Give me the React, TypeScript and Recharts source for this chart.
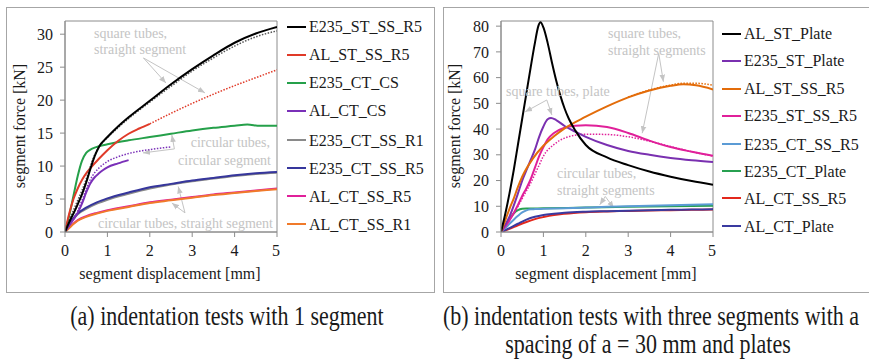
import React from "react";
import { LineChart, Line, XAxis, YAxis, ReferenceLine, ReferenceArea } from "recharts";

type P = [number, number];

// ---- (a) one segment ----
const A_E235_ST_SS_R5: P[] = [[0, 0], [0.1, 1.5], [0.2, 2.8], [0.3, 4.2], [0.4, 5.7], [0.5, 7.5], [0.6, 9.6], [0.7, 11.5], [0.8, 12.9], [1, 14.4], [1.25, 16.0], [1.5, 17.4], [2, 19.9], [2.5, 22.4], [3, 24.7], [3.5, 26.8], [4, 28.7], [4.5, 30.1], [5, 31.1]];
const A_E235_ST_SS_R5_SIM: P[] = [[0, 0], [0.1, 1.8], [0.2, 3.3], [0.3, 4.8], [0.4, 6.3], [0.5, 8.0], [0.6, 10.0], [0.7, 11.7], [0.8, 12.9], [1, 14.3], [1.5, 17.2], [2, 19.7], [2.5, 22.1], [3, 24.4], [3.5, 26.4], [4, 28.2], [4.5, 29.6], [5, 30.5]];
const A_AL_ST_SS_R5: P[] = [[0, 0], [0.1, 2.8], [0.2, 5.0], [0.3, 6.6], [0.4, 7.9], [0.5, 8.9], [0.6, 9.7], [0.8, 11.1], [1, 12.4], [1.25, 13.8], [1.5, 14.9], [1.75, 15.7], [2, 16.4]];
const A_AL_ST_SS_R5_SIM: P[] = [[2, 16.4], [2.5, 18.0], [3, 19.5], [3.5, 20.9], [4, 22.2], [4.5, 23.4], [5, 24.6]];
const A_E235_CT_CS: P[] = [[0, 0], [0.1, 2.5], [0.2, 5.5], [0.3, 8.5], [0.4, 10.8], [0.5, 12.0], [0.6, 12.5], [0.7, 12.8], [0.8, 13.0], [1, 13.3], [1.5, 13.9], [2, 14.4], [2.5, 14.9], [3, 15.4], [3.5, 15.8], [4, 16.1], [4.3, 16.3], [4.6, 16.1], [5, 16.1]];
const A_AL_CT_CS: P[] = [[0, 0], [0.1, 1.0], [0.2, 1.9], [0.3, 2.9], [0.4, 4.3], [0.5, 6.0], [0.6, 7.4], [0.7, 8.3], [0.8, 8.9], [0.9, 9.4], [1, 9.8], [1.25, 10.4], [1.5, 10.9]];
const A_AL_CT_CS_SIM: P[] = [[0, 0], [0.2, 2.0], [0.3, 3.2], [0.4, 4.8], [0.5, 6.5], [0.6, 8.0], [0.7, 9.0], [0.8, 9.7], [1, 10.7], [1.25, 11.4], [1.5, 11.9], [2, 12.5], [2.5, 12.9]];
const A_E235_CT_SS_R1: P[] = [[0, 0], [0.1, 1.1], [0.2, 2.0], [0.3, 2.7], [0.5, 3.5], [0.75, 4.3], [1, 4.9], [1.5, 5.8], [2, 6.6], [2.5, 7.2], [3, 7.7], [3.5, 8.1], [4, 8.5], [4.5, 8.8], [5, 9.0]];
const A_E235_CT_SS_R5: P[] = [[0, 0], [0.1, 1.2], [0.2, 2.1], [0.3, 2.8], [0.5, 3.7], [0.75, 4.5], [1, 5.1], [1.5, 6.0], [2, 6.8], [2.5, 7.3], [3, 7.8], [3.5, 8.2], [4, 8.6], [4.5, 8.9], [5, 9.1]];
const A_AL_CT_SS_R5: P[] = [[0, 0], [0.1, 0.7], [0.2, 1.3], [0.3, 1.8], [0.5, 2.4], [0.75, 2.9], [1, 3.3], [1.5, 3.9], [2, 4.5], [2.5, 4.9], [3, 5.3], [3.5, 5.7], [4, 6.0], [4.5, 6.3], [5, 6.6]];
const A_AL_CT_SS_R1: P[] = [[0, 0], [0.1, 0.6], [0.2, 1.2], [0.3, 1.7], [0.5, 2.3], [0.75, 2.8], [1, 3.2], [1.5, 3.8], [2, 4.4], [2.5, 4.8], [3, 5.2], [3.5, 5.6], [4, 5.9], [4.5, 6.2], [5, 6.5]];

// ---- (b) three segments and plates ----
const B_AL_ST_PLATE: P[] = [[0, 0], [0.1, 7], [0.2, 15], [0.3, 24], [0.4, 34], [0.5, 44], [0.6, 54], [0.7, 64], [0.8, 73.5], [0.88, 80], [0.93, 81.5], [1.0, 79.5], [1.1, 73.5], [1.2, 66], [1.3, 59], [1.4, 53], [1.5, 48], [1.6, 44], [1.75, 39.5], [2, 33.8], [2.5, 29], [3, 26], [3.5, 23.5], [4, 21.5], [4.5, 19.8], [5, 18.4]];
const B_E235_ST_PLATE: P[] = [[0, 0], [0.2, 6], [0.4, 15], [0.5, 20], [0.6, 24], [0.7, 28], [0.8, 32], [0.9, 37], [1.0, 41], [1.1, 43.8], [1.18, 44.3], [1.3, 43.5], [1.5, 41.2], [1.75, 39], [2, 37], [2.5, 33.8], [3, 31.5], [3.5, 30], [4, 28.8], [4.5, 27.9], [5, 27.2]];
const B_AL_ST_SS_R5: P[] = [[0, 0], [0.1, 4.5], [0.2, 9], [0.3, 13], [0.4, 17.5], [0.5, 21.5], [0.75, 28.5], [1, 33.5], [1.25, 37.2], [1.5, 40.3], [2, 44.8], [2.5, 48.8], [3, 52.3], [3.5, 55], [4, 56.8], [4.3, 57.4], [4.6, 57.0], [5, 55.4]];
const B_AL_ST_SS_R5_SIM: P[] = [[3, 52.5], [3.5, 55.2], [4, 57.1], [4.3, 57.8], [4.6, 57.8], [5, 57.0]];
const B_E235_ST_SS_R5: P[] = [[0, 0], [0.2, 4.5], [0.4, 10.5], [0.5, 14], [0.6, 17], [0.7, 20.5], [0.8, 25], [0.9, 29.5], [1.0, 33], [1.1, 36], [1.25, 38.5], [1.5, 40.5], [1.75, 41.3], [2, 41.5], [2.5, 40.8], [3, 38.5], [3.5, 35.5], [4, 33], [4.5, 31.2], [5, 29.6]];
const B_E235_ST_SS_R5_SIM: P[] = [[0, 0], [0.4, 10], [0.5, 13], [0.6, 16], [0.7, 19], [0.8, 22.5], [0.9, 26], [1, 29.5], [1.25, 34], [1.5, 36.5], [1.75, 37.6], [2, 38], [2.5, 37.9], [3, 37], [3.5, 35.3], [4, 33.2], [4.5, 31.2], [5, 29.5]];
const B_E235_CT_SS_R5: P[] = [[0, 0], [0.1, 1.5], [0.2, 3.2], [0.3, 4.8], [0.4, 6.3], [0.5, 7.6], [0.6, 8.4], [0.7, 8.8], [0.8, 8.9], [1, 9.0], [1.5, 9.2], [2, 9.5], [2.5, 9.8], [3, 10.0], [3.5, 10.2], [4, 10.4], [4.5, 10.6], [5, 10.8]];
const B_E235_CT_PLATE: P[] = [[0, 0], [0.1, 2.5], [0.2, 5], [0.3, 7.2], [0.4, 8.5], [0.5, 9.0], [0.6, 9.1], [1, 9.2], [2, 9.5], [3, 9.8], [4, 10.0], [5, 10.2]];
const B_AL_CT_SS_R5: P[] = [[0, 0], [0.2, 1.2], [0.4, 2.6], [0.6, 3.9], [0.8, 5.0], [1, 5.8], [1.25, 6.6], [1.5, 7.1], [2, 7.7], [2.5, 8.0], [3, 8.2], [3.5, 8.4], [4, 8.5], [4.5, 8.6], [5, 8.7]];
const B_AL_CT_PLATE: P[] = [[0, 0], [0.2, 1.5], [0.4, 3.2], [0.6, 4.8], [0.8, 5.9], [1, 6.6], [1.25, 7.1], [1.5, 7.5], [2, 7.9], [2.5, 8.1], [3, 8.3], [3.5, 8.5], [4, 8.6], [4.5, 8.7], [5, 8.8]];

const X_TICKS = [0, 1, 2, 3, 4, 5];
const A_Y_TICKS = [0, 5, 10, 15, 20, 25, 30];
const B_Y_TICKS = [0, 10, 20, 30, 40, 50, 60, 70, 80];

type S = { name: string; color: string; data: P[]; dotted?: boolean };

const A_SERIES: S[] = [
  { name: "E235_CT_SS_R1", color: "#8a8a8a", data: A_E235_CT_SS_R1 },
  { name: "E235_CT_SS_R5", color: "#36369c", data: A_E235_CT_SS_R5 },
  { name: "AL_CT_SS_R5", color: "#e0209a", data: A_AL_CT_SS_R5 },
  { name: "AL_CT_SS_R1", color: "#f07a2a", data: A_AL_CT_SS_R1 },
  { name: "AL_CT_CS", color: "#7a30b8", data: A_AL_CT_CS },
  { name: "AL_CT_CS sim", color: "#7a30b8", data: A_AL_CT_CS_SIM, dotted: true },
  { name: "E235_CT_CS", color: "#25a04a", data: A_E235_CT_CS },
  { name: "AL_ST_SS_R5", color: "#e03a28", data: A_AL_ST_SS_R5 },
  { name: "AL_ST_SS_R5 sim", color: "#e03a28", data: A_AL_ST_SS_R5_SIM, dotted: true },
  { name: "E235_ST_SS_R5 sim", color: "#555555", data: A_E235_ST_SS_R5_SIM, dotted: true },
  { name: "E235_ST_SS_R5", color: "#000000", data: A_E235_ST_SS_R5 },
];
const A_LEGEND = ["E235_ST_SS_R5", "AL_ST_SS_R5", "E235_CT_CS", "AL_CT_CS", "E235_CT_SS_R1", "E235_CT_SS_R5", "AL_CT_SS_R5", "AL_CT_SS_R1"];

const B_SERIES: S[] = [
  { name: "AL_CT_SS_R5", color: "#e3281c", data: B_AL_CT_SS_R5 },
  { name: "AL_CT_Plate", color: "#3a3aa0", data: B_AL_CT_PLATE },
  { name: "E235_CT_Plate", color: "#27a050", data: B_E235_CT_PLATE },
  { name: "E235_CT_SS_R5", color: "#5b9bd5", data: B_E235_CT_SS_R5 },
  { name: "E235_ST_SS_R5 sim", color: "#e0209a", data: B_E235_ST_SS_R5_SIM, dotted: true },
  { name: "E235_ST_SS_R5", color: "#e0209a", data: B_E235_ST_SS_R5 },
  { name: "E235_ST_Plate", color: "#7a30b0", data: B_E235_ST_PLATE },
  { name: "AL_ST_SS_R5 sim", color: "#e36c0a", data: B_AL_ST_SS_R5_SIM, dotted: true },
  { name: "AL_ST_SS_R5", color: "#e36c0a", data: B_AL_ST_SS_R5 },
  { name: "AL_ST_Plate", color: "#000000", data: B_AL_ST_PLATE },
];
const B_LEGEND = ["AL_ST_Plate", "E235_ST_Plate", "AL_ST_SS_R5", "E235_ST_SS_R5", "E235_CT_SS_R5", "E235_CT_Plate", "AL_CT_SS_R5", "AL_CT_Plate"];

type Seg = [[number, number], [number, number]];
const A_ARROWS: Seg[] = [
  [[1.85, 26.4], [2.38, 22.6]],
  [[1.85, 26.4], [3.3, 21.1]],
  [[2.58, 12.6], [2.52, 14.7]],
  [[2.58, 12.6], [1.84, 12.0]],
  [[2.83, 2.9], [2.67, 6.9]],
  [[2.83, 2.9], [2.52, 4.4]],
];
const B_ARROWS: Seg[] = [
  [[3.72, 69.4], [3.83, 58.4]],
  [[3.72, 69.4], [3.33, 38.4]],
  [[1.08, 51.3], [0.57, 46.7]],
  [[1.08, 51.3], [1.2, 45.5]],
  [[2.46, 13.8], [2.33, 10.6]],
  [[2.46, 13.8], [2.66, 9.3]],
];

const FONT = "'Liberation Serif', 'DejaVu Serif', serif";
const AXIS = "#8c8c8c";
const NOTE = "#c4c4c4";

const toPts = (d: P[]) => d.map(([x, y]) => ({ x, y }));

function Panel({ series, yMax, yTicks, arrows, yWidth }: { series: S[]; yMax: number; yTicks: number[]; arrows: Seg[]; yWidth: number }) {
  const tick = { fill: "#1a1a1a", fontSize: 16, fontFamily: FONT };
  return (
    <LineChart width={yWidth + 215} height={300} margin={{ top: 21, right: 3, left: 0, bottom: 0 }} style={{ fontFamily: FONT }}>
      <XAxis type="number" dataKey="x" domain={[0, 5]} ticks={X_TICKS} allowDataOverflow stroke={AXIS} tickSize={5} tickMargin={8} height={68} tick={tick} />
      <YAxis type="number" domain={[0, yMax]} ticks={yTicks} allowDataOverflow stroke={AXIS} tickSize={5} tickMargin={7} width={yWidth} tick={tick} />
      <ReferenceArea x1={0} x2={5} y1={0} y2={yMax} fill="none" stroke={AXIS} strokeWidth={1} ifOverflow="visible" />
      {arrows.map((a, i) => (
        <ReferenceLine key={"ar" + i} segment={[{ x: a[0][0], y: a[0][1] }, { x: a[1][0], y: a[1][1] }]} stroke={NOTE} strokeWidth={1} markerEnd="url(#arrowHead)" ifOverflow="visible" />
      ))}
      {series.map((s) => (
        <Line
          key={s.name}
          name={s.name}
          data={toPts(s.data)}
          dataKey="y"
          type="monotone"
          stroke={s.color}
          strokeWidth={s.dotted ? 1.5 : 2}
          strokeDasharray={s.dotted ? "1.5 1.5" : undefined}
          dot={false}
          activeDot={false}
          isAnimationActive={false}
        />
      ))}
    </LineChart>
  );
}

function Legend({ names, series, left, top, step }: { names: string[]; series: S[]; left: number; top: number; step: number }) {
  return (
    <>
      {names.map((n, i) => {
        const c = series.find((s) => s.name === n)!.color;
        return (
          <div key={n} style={{ position: "absolute", left, top: top + i * step, transform: "translateY(-50%)", display: "flex", alignItems: "center", whiteSpace: "nowrap" }}>
            <span style={{ display: "inline-block", width: 19, height: 2, background: c, marginRight: 3 }} />
            <span style={{ fontSize: 16, lineHeight: "18px", color: "#1a1a1a", display: "inline-block", transform: "scaleY(1.1)" }}>{n}</span>
          </div>
        );
      })}
    </>
  );
}

function Note({ x, y, text, right }: { x: number; y: number; text: string; right?: boolean }) {
  return (
    <div style={{ position: "absolute", left: right ? undefined : x, right: right ? 869 - x : undefined, top: y - 9, fontSize: 14, lineHeight: "18px", color: NOTE, whiteSpace: "nowrap" }}>
      {text}
    </div>
  );
}

function Abs({ x, y, text, size = 16, rotate = false, stretch = 1, lh = 1.15 }: { x: number; y: number; text: string; size?: number; rotate?: boolean; stretch?: number; lh?: number }) {
  return (
    <div style={{ position: "absolute", left: x, top: y, transform: `translate(-50%, -50%)${rotate ? " rotate(-90deg)" : ""} scaleY(${stretch})`, fontSize: size, lineHeight: lh, color: "#1a1a1a", whiteSpace: "nowrap" }}>
      {text}
    </div>
  );
}

export default function App() {
  return (
    <div style={{ position: "relative", width: 869, height: 359, overflow: "hidden", background: "#fff", fontFamily: FONT }}>
      <style>{"body{margin:0}"}</style>
      <svg width={0} height={0} style={{ position: "absolute" }}>
        <defs>
          <marker id="arrowHead" viewBox="0 0 10 10" refX={10} refY={5} markerWidth={7} markerHeight={7} markerUnits="userSpaceOnUse" orient="auto">
            <path d="M0,1 L10,5 L0,9 z" fill={NOTE} />
          </marker>
        </defs>
      </svg>

      <div style={{ position: "absolute", left: 6, top: 7, width: 429, height: 286, border: "1px solid #a6a6a6", boxSizing: "border-box" }} />
      <div style={{ position: "absolute", left: 443, top: 7, width: 440, height: 286, border: "1px solid #a6a6a6", boxSizing: "border-box" }} />

      <div style={{ position: "absolute", left: 0, top: 0 }}>
        <Panel series={A_SERIES} yMax={32} yTicks={A_Y_TICKS} arrows={A_ARROWS} yWidth={65} />
      </div>
      <div style={{ position: "absolute", left: 435, top: 0 }}>
        <Panel series={B_SERIES} yMax={82} yTicks={B_Y_TICKS} arrows={B_ARROWS} yWidth={66} />
      </div>

      <Note x={94} y={34} text="square tubes," />
      <Note x={94} y={50} text="straight segment" />
      <Note x={270} y={143} text="circular tubes," right />
      <Note x={271} y={161} text="circular segment" right />
      <Note x={98} y={224} text="circular tubes, straight segment" />

      <Note x={608} y={34} text="square tubes," />
      <Note x={608} y={51} text="straight segments" />
      <Note x={506} y={92} text="square tubes, plate" />
      <Note x={557} y={174} text="circular tubes," />
      <Note x={557} y={191} text="straight segments" />

      <Legend names={A_LEGEND} series={A_SERIES} left={287} top={26.7} step={28.2} />
      <Legend names={B_LEGEND} series={B_SERIES} left={722} top={34} step={27.4} />

      <Abs x={20} y={126} text="segment force [kN]" rotate />
      <Abs x={170} y={274} text="segment displacement [mm]" />
      <Abs x={455} y={126} text="segment force [kN]" rotate />
      <Abs x={606} y={274} text="segment displacement [mm]" />

      <Abs x={227} y={317} text="(a) indentation tests with 1 segment" size={22} stretch={1.2} lh={1} />
      <Abs x={651} y={317} text="(b) indentation tests with three segments with a" size={22} stretch={1.2} lh={1} />
      <Abs x={648} y={345} text="spacing of a = 30 mm and plates" size={22} stretch={1.2} lh={1} />
    </div>
  );
}
